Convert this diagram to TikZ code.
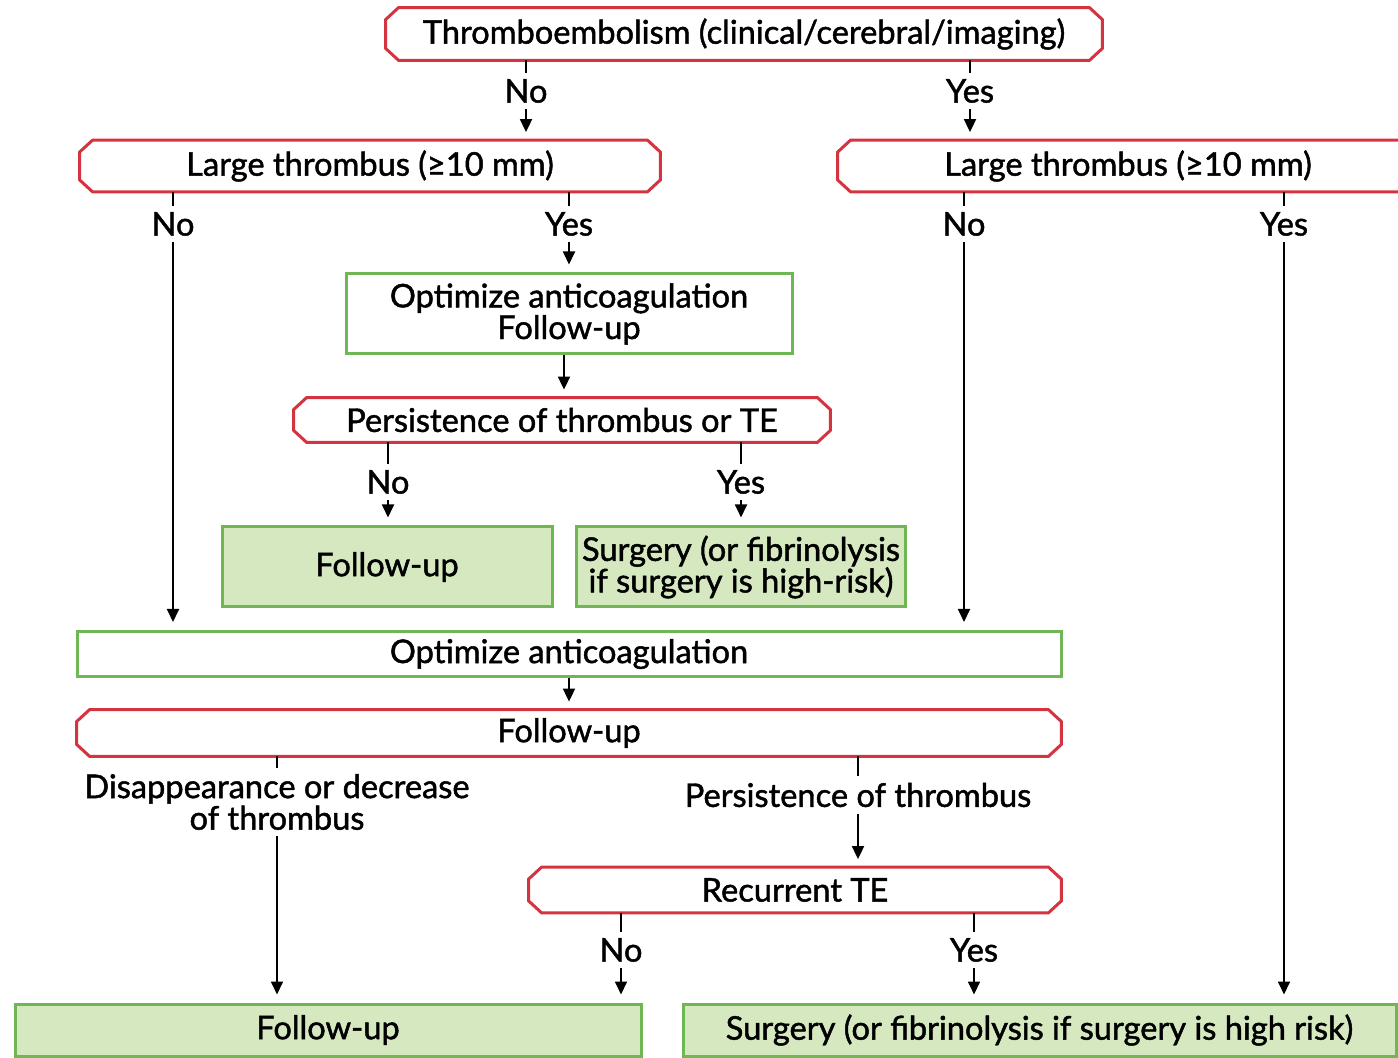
\documentclass[tikz,border=0pt]{standalone}
\usepackage{fontspec}
\setmainfont{Lato}[FakeBold=1.4]
\usetikzlibrary{arrows.meta}
\definecolor{decred}{RGB}{212,52,64}
\definecolor{actgreen}{RGB}{112,182,84}
\definecolor{actfill}{RGB}{213,232,192}
\newcommand{\chamf}[1]{\draw[decline] ([xshift=6.5pt]#1.north west) -- ([xshift=-6.5pt]#1.north east) -- ([yshift=-6pt]#1.north east) -- ([yshift=6pt]#1.south east) -- ([xshift=-6.5pt]#1.south east) -- ([xshift=6.5pt]#1.south west) -- ([yshift=6pt]#1.south west) -- ([yshift=-6pt]#1.north west) -- cycle;}
\begin{document}
\begin{tikzpicture}[x=0.5pt,y=-0.5pt,font=\fontsize{16.3}{15.8}\selectfont,>={Triangle[length=6.5pt,width=6pt]},
      decision/.style={rectangle,inner sep=0pt},
      decline/.style={draw=decred,line width=1.5pt,line join=miter},
      action/.style={draw=actgreen,line width=1.5pt,fill=white,rectangle,align=center,inner sep=0pt},
      done/.style={action,fill=actfill},
      lbl/.style={inner sep=3pt,align=center},
      tick/.style={line width=0.9pt},
      arr/.style={->,line width=0.9pt,shorten >=4pt}]
    \useasboundingbox (0,0) rectangle (1398,1058);
    \node[decision,minimum width=358pt,minimum height=26pt] (te) at (744,34) {Thromboembolism (clinical/cerebral/imaging)};
    \node[decision,minimum width=290pt,minimum height=25.5pt] (lgl) at (370,166) {Large thrombus (≥10 mm)};
    \node[decision,minimum width=290pt,minimum height=25.5pt] (lgr) at (1128,166) {Large thrombus (≥10 mm)};
    \node[lbl] (teno) at (526,91) {No};
    \node[lbl] (teyes) at (970,91) {Yes};
    \node[lbl] (lglno) at (173,224) {No};
    \node[lbl] (lglyes) at (569,224) {Yes};
    \node[lbl] (lgrno) at (964,224) {No};
    \node[lbl] (lgryes) at (1284,224) {Yes};
    \node[action,minimum width=223pt,minimum height=40pt] (opt1) at (569,314) {Optimize anticoagulation\\Follow-up};
    \node[decision,minimum width=268pt,minimum height=22pt] (pers1) at (562,420) {Persistence of thrombus or TE};
    \node[lbl] (persno) at (388,482) {No};
    \node[lbl] (persyes) at (741,482) {Yes};
    \node[done,minimum width=165pt,minimum height=40pt] (fu1) at (387,567) {Follow-up};
    \node[done,minimum width=164.5pt,minimum height=40pt] (surg1) at (741,567) {Surgery (or fibrinolysis\\if surgery is high-risk)};
    \node[action,minimum width=492pt,minimum height=22.5pt] (opt2) at (569,654) {Optimize anticoagulation};
    \node[decision,minimum width=492pt,minimum height=23pt] (fu2) at (569,733) {Follow-up};
    \node[lbl] (dis) at (277,802) {Disappearance or decrease\\of thrombus};
    \node[lbl] (pers2) at (858,795) {Persistence of thrombus};
    \node[decision,minimum width=266pt,minimum height=22.5pt] (rec) at (795,890) {Recurrent TE};
    \node[lbl] (recno) at (621,950) {No};
    \node[lbl] (recyes) at (974,950) {Yes};
    \node[done,minimum width=313pt,minimum height=26pt] (fu3) at (328,1030) {Follow-up};
    \node[done,minimum width=356.5pt,minimum height=26pt] (surg2) at (1039.5,1030) {Surgery (or fibrinolysis if surgery is high risk)};
    \chamf{te} \chamf{lgl} \chamf{lgr} \chamf{pers1} \chamf{fu2} \chamf{rec}
    \draw[tick] (te.south -| teno) -- (teno);
    \draw[arr] (teno) -- (teno |- lgl.north);
    \draw[tick] (te.south -| teyes) -- (teyes);
    \draw[arr] (teyes) -- (teyes |- lgr.north);
    \draw[tick] (lgl.south -| lglno) -- (lglno);
    \draw[arr] (lglno) -- (lglno |- opt2.north);
    \draw[tick] (lgl.south -| lglyes) -- (lglyes);
    \draw[arr] (lglyes) -- (lglyes |- opt1.north);
    \draw[tick] (lgr.south -| lgrno) -- (lgrno);
    \draw[arr] (lgrno) -- (lgrno |- opt2.north);
    \draw[tick] (lgr.south -| lgryes) -- (lgryes);
    \draw[arr] (lgryes) -- (lgryes |- surg2.north);
    \draw[arr] ([xshift=-2.5pt]opt1.south) -- ([xshift=-2.5pt]opt1.south |- pers1.north);
    \draw[tick] (pers1.south -| persno) -- (persno);
    \draw[arr] (persno) -- (persno |- fu1.north);
    \draw[tick] (pers1.south -| persyes) -- (persyes);
    \draw[arr] (persyes) -- (persyes |- surg1.north);
    \draw[arr] (opt2) -- (fu2);
    \draw[tick] (fu2.south -| dis) -- (dis);
    \draw[arr] (dis) -- (dis |- fu3.north);
    \draw[tick] (fu2.south -| pers2) -- (pers2);
    \draw[arr] (pers2) -- (pers2 |- rec.north);
    \draw[tick] (rec.south -| recno) -- (recno);
    \draw[arr] (recno) -- (recno |- fu3.north);
    \draw[tick] (rec.south -| recyes) -- (recyes);
    \draw[arr] (recyes) -- (recyes |- surg2.north);
  \end{tikzpicture}
\end{document}
